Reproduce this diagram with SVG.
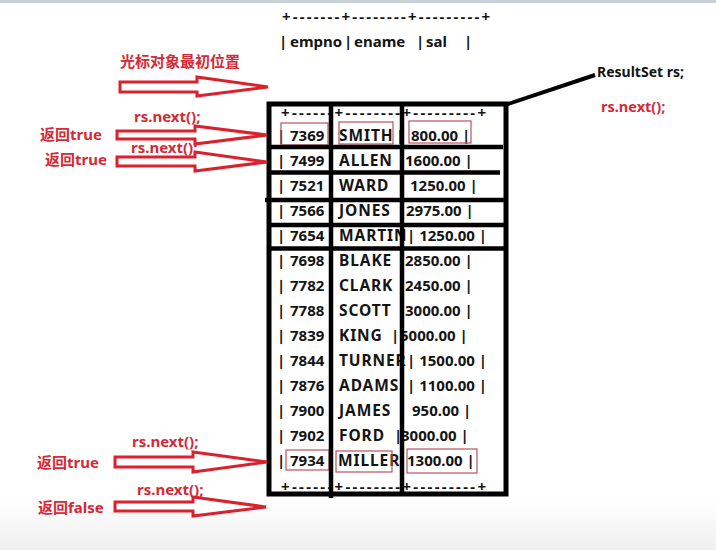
<svg xmlns="http://www.w3.org/2000/svg" width="716" height="550" viewBox="0 0 716 550">
<defs>
<linearGradient id="bg" x1="0" y1="0" x2="0" y2="1">
<stop offset="0" stop-color="#ffffff"/>
<stop offset="1" stop-color="#efefef"/>
</linearGradient>
<style>
text{font-family:"Noto Sans","Noto Sans CJK SC",sans-serif;font-weight:bold;}
.k{fill:#141414;font-size:15px;}
.nm{font-size:15.5px;letter-spacing:0.9px;}
.r{fill:#d42a35;font-size:15px;}
.arr{fill:#ffffff;stroke:#d9222e;stroke-width:3;stroke-linejoin:miter;}
.box{fill:none;stroke:#000;stroke-width:5;}
.ln{stroke:#000;stroke-width:4.5;}
.hl{fill:none;stroke:#b9505c;stroke-width:1.2;}
</style>
</defs>
<rect x="0" y="0" width="716" height="550" fill="#ffffff"/>
<rect x="0" y="500" width="716" height="50" fill="url(#bg)"/>
<rect x="0" y="0" width="716" height="3" fill="#c8d0da"/>

<g id="header">
<text class="k" x="282" y="22" textLength="208" lengthAdjust="spacing">+-------+--------+---------+</text>
<text class="k" x="279" y="47">|</text>
<text class="k" x="290" y="47">empno</text>
<text class="k" x="344" y="47">|</text>
<text class="k" x="354" y="47">ename</text>
<text class="k" x="416" y="47">|</text>
<text class="k" x="426" y="47">sal</text>
<text class="k" x="464" y="47">|</text>
</g>

<g id="resultset-table">
<text class="k" x="281" y="118" textLength="205" lengthAdjust="spacing">+------+--------+---------+</text>
<text class="k" x="281" y="492" textLength="205" lengthAdjust="spacing">+------+--------+---------+</text>
<g class="k">
<text x="277" y="141">|</text><text x="290" y="141">7369</text><text class="nm" x="339" y="141">SMITH</text><text x="396" y="141">|</text><text x="411" y="141">800.00 |</text>
<text x="277" y="166">|</text><text x="290" y="166">7499</text><text class="nm" x="339" y="166">ALLEN</text><text x="397" y="166">|</text><text x="405" y="166">1600.00 |</text>
<text x="277" y="191">|</text><text x="290" y="191">7521</text><text class="nm" x="339" y="191">WARD</text><text x="410" y="191">1250.00 |</text>
<text x="277" y="216">|</text><text x="290" y="216">7566</text><text class="nm" x="339" y="216">JONES</text><text x="397" y="216">|</text><text x="406" y="216">2975.00 |</text>
<text x="277" y="241">|</text><text x="290" y="241">7654</text><text class="nm" x="339" y="241">MARTIN</text><text x="407" y="241">| 1250.00 |</text>
<text x="277" y="266">|</text><text x="290" y="266">7698</text><text class="nm" x="339" y="266">BLAKE</text><text x="397" y="266">|</text><text x="405" y="266">2850.00 |</text>
<text x="277" y="291">|</text><text x="290" y="291">7782</text><text class="nm" x="339" y="291">CLARK</text><text x="397" y="291">|</text><text x="405" y="291">2450.00 |</text>
<text x="277" y="316">|</text><text x="290" y="316">7788</text><text class="nm" x="339" y="316">SCOTT</text><text x="397" y="316">|</text><text x="405" y="316">3000.00 |</text>
<text x="277" y="341">|</text><text x="290" y="341">7839</text><text class="nm" x="339" y="341">KING</text><text x="391" y="341">|</text><text x="400" y="341">5000.00 |</text>
<text x="277" y="366">|</text><text x="290" y="366">7844</text><text class="nm" x="339" y="366">TURNER</text><text x="407" y="366">| 1500.00 |</text>
<text x="277" y="391">|</text><text x="290" y="391">7876</text><text class="nm" x="339" y="391">ADAMS</text><text x="407" y="391">| 1100.00 |</text>
<text x="277" y="416">|</text><text x="290" y="416">7900</text><text class="nm" x="339" y="416">JAMES</text><text x="412" y="416">950.00 |</text>
<text x="277" y="441">|</text><text x="290" y="441">7902</text><text class="nm" x="339" y="441">FORD</text><text x="394" y="441">|</text><text x="401" y="441">3000.00 |</text>
<text x="277" y="466">|</text><text x="290" y="466">7934</text><text class="nm" x="338" y="466">MILLER</text><text x="407" y="466">1300.00 |</text>
</g>
<rect class="hl" x="281" y="123" width="47" height="22"/>
<rect class="hl" x="339" y="122" width="54" height="22"/>
<rect class="hl" x="409" y="121" width="62" height="22"/>
<rect class="hl" x="286" y="450" width="43" height="20"/>
<rect class="hl" x="336" y="451" width="56" height="21"/>
<rect class="hl" x="407" y="449" width="70" height="24"/>
<line class="ln" x1="331" y1="104" x2="331" y2="498"/>
<line class="ln" x1="402" y1="104" x2="402" y2="494"/>
<line class="ln" x1="267" y1="147" x2="503" y2="147"/>
<line class="ln" x1="269" y1="172.5" x2="500" y2="172.5"/>
<line class="ln" x1="265" y1="200" x2="508" y2="200"/>
<line class="ln" x1="269" y1="225" x2="506" y2="225"/>
<line class="ln" x1="269" y1="248.5" x2="506" y2="248.5"/>
<rect class="box" x="269" y="104" width="237" height="390"/>
</g>

<g id="resultset-label">
<text x="597" y="77" style="fill:#141414;font-size:14px;">ResultSet rs;</text>
<text x="601" y="112" style="fill:#d42a35;font-size:14.5px;">rs.next();</text>
</g>

<g id="labels">
<text class="r" x="120" y="67">光标对象最初位置</text>
<text class="r" x="134" y="122">rs.next();</text>
<text class="r" x="40" y="140">返回true</text>
<text class="r" x="131" y="153">rs.next();</text>
<text class="r" x="45" y="165">返回true</text>
<text class="r" x="132" y="447">rs.next();</text>
<text class="r" x="37" y="468">返回true</text>
<text class="r" x="137" y="495">rs.next();</text>
<text class="r" x="38" y="513">返回false</text>
</g>

<g id="connectors">
<line x1="505" y1="105" x2="595" y2="75" stroke="#000" stroke-width="4"/>
<path class="arr" d="M120,82 H197 V77 L268,87 L197,96 V92 H120 Z"/>
<path class="arr" d="M117,131 H195 V126 L267,135 L195,144 V139 H117 Z"/>
<path class="arr" d="M117,157 H195 V152 L267,162 L195,171 V166 H117 Z"/>
<path class="arr" d="M115,457 H193 V452 L267,462 L193,472 V467 H115 Z"/>
<path class="arr" d="M115,502 H193 V497 L266,507 L193,516 V511 H115 Z"/>
</g>
</svg>
